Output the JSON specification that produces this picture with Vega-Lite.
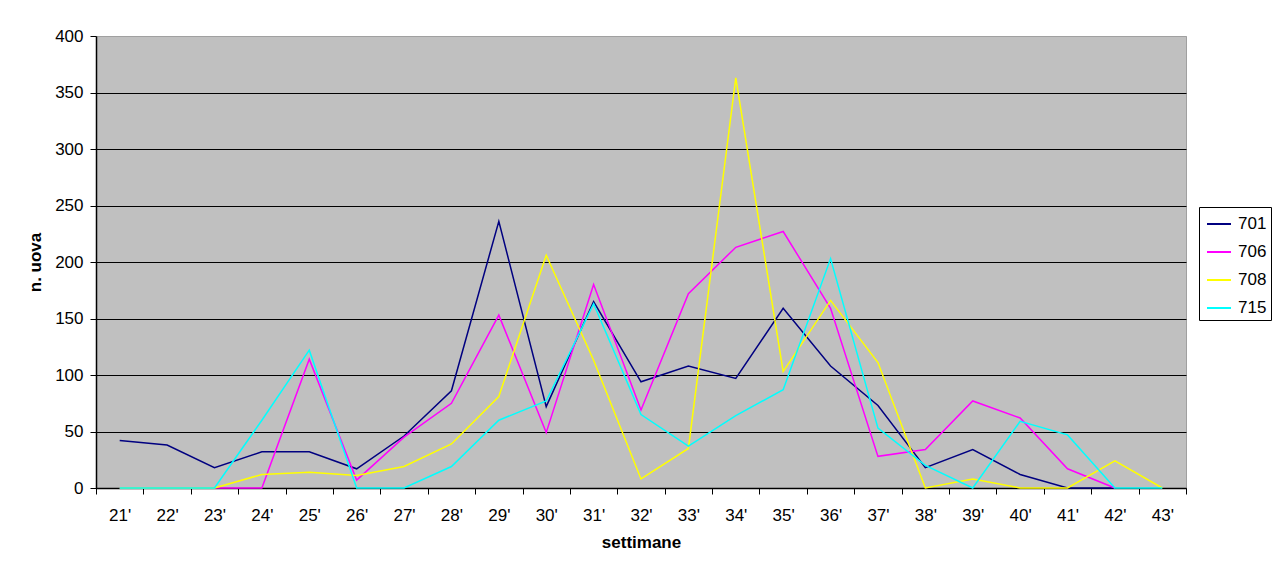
{
  "$schema": "https://vega.github.io/schema/vega-lite/v6.json",
  "width": 1090,
  "height": 452,
  "autosize": {"type": "none"},
  "padding": {"left": 96, "top": 36, "right": 88, "bottom": 83},
  "background": "#ffffff",
  "data": {
    "values": [
      {"sett": "21'", "serie": "701", "n": 42}, {"sett": "22'", "serie": "701", "n": 38}, {"sett": "23'", "serie": "701", "n": 18},
      {"sett": "24'", "serie": "701", "n": 32}, {"sett": "25'", "serie": "701", "n": 32}, {"sett": "26'", "serie": "701", "n": 17},
      {"sett": "27'", "serie": "701", "n": 46}, {"sett": "28'", "serie": "701", "n": 86}, {"sett": "29'", "serie": "701", "n": 236},
      {"sett": "30'", "serie": "701", "n": 72}, {"sett": "31'", "serie": "701", "n": 165}, {"sett": "32'", "serie": "701", "n": 94},
      {"sett": "33'", "serie": "701", "n": 108}, {"sett": "34'", "serie": "701", "n": 97}, {"sett": "35'", "serie": "701", "n": 159},
      {"sett": "36'", "serie": "701", "n": 108}, {"sett": "37'", "serie": "701", "n": 73}, {"sett": "38'", "serie": "701", "n": 18},
      {"sett": "39'", "serie": "701", "n": 34}, {"sett": "40'", "serie": "701", "n": 12}, {"sett": "41'", "serie": "701", "n": 0},
      {"sett": "42'", "serie": "701", "n": 0},

      {"sett": "21'", "serie": "706", "n": 0}, {"sett": "22'", "serie": "706", "n": 0}, {"sett": "23'", "serie": "706", "n": 0},
      {"sett": "24'", "serie": "706", "n": 0}, {"sett": "25'", "serie": "706", "n": 114}, {"sett": "26'", "serie": "706", "n": 7},
      {"sett": "27'", "serie": "706", "n": 45}, {"sett": "28'", "serie": "706", "n": 75}, {"sett": "29'", "serie": "706", "n": 153},
      {"sett": "30'", "serie": "706", "n": 49}, {"sett": "31'", "serie": "706", "n": 180}, {"sett": "32'", "serie": "706", "n": 69},
      {"sett": "33'", "serie": "706", "n": 172}, {"sett": "34'", "serie": "706", "n": 213}, {"sett": "35'", "serie": "706", "n": 227},
      {"sett": "36'", "serie": "706", "n": 159}, {"sett": "37'", "serie": "706", "n": 28}, {"sett": "38'", "serie": "706", "n": 34},
      {"sett": "39'", "serie": "706", "n": 77}, {"sett": "40'", "serie": "706", "n": 62}, {"sett": "41'", "serie": "706", "n": 17},
      {"sett": "42'", "serie": "706", "n": 0},

      {"sett": "21'", "serie": "708", "n": 0}, {"sett": "22'", "serie": "708", "n": 0}, {"sett": "23'", "serie": "708", "n": 0},
      {"sett": "24'", "serie": "708", "n": 12}, {"sett": "25'", "serie": "708", "n": 14}, {"sett": "26'", "serie": "708", "n": 11},
      {"sett": "27'", "serie": "708", "n": 19}, {"sett": "28'", "serie": "708", "n": 39}, {"sett": "29'", "serie": "708", "n": 81},
      {"sett": "30'", "serie": "708", "n": 206}, {"sett": "31'", "serie": "708", "n": 113}, {"sett": "32'", "serie": "708", "n": 8},
      {"sett": "33'", "serie": "708", "n": 35}, {"sett": "34'", "serie": "708", "n": 363}, {"sett": "35'", "serie": "708", "n": 103},
      {"sett": "36'", "serie": "708", "n": 166}, {"sett": "37'", "serie": "708", "n": 111}, {"sett": "38'", "serie": "708", "n": 0},
      {"sett": "39'", "serie": "708", "n": 8}, {"sett": "40'", "serie": "708", "n": 0}, {"sett": "41'", "serie": "708", "n": 0},
      {"sett": "42'", "serie": "708", "n": 24}, {"sett": "43'", "serie": "708", "n": 0},

      {"sett": "21'", "serie": "715", "n": 0}, {"sett": "22'", "serie": "715", "n": 0}, {"sett": "23'", "serie": "715", "n": 0},
      {"sett": "24'", "serie": "715", "n": 60}, {"sett": "25'", "serie": "715", "n": 122}, {"sett": "26'", "serie": "715", "n": 0},
      {"sett": "27'", "serie": "715", "n": 0}, {"sett": "28'", "serie": "715", "n": 19}, {"sett": "29'", "serie": "715", "n": 60},
      {"sett": "30'", "serie": "715", "n": 77}, {"sett": "31'", "serie": "715", "n": 163}, {"sett": "32'", "serie": "715", "n": 65},
      {"sett": "33'", "serie": "715", "n": 37}, {"sett": "34'", "serie": "715", "n": 64}, {"sett": "35'", "serie": "715", "n": 87},
      {"sett": "36'", "serie": "715", "n": 203}, {"sett": "37'", "serie": "715", "n": 53}, {"sett": "38'", "serie": "715", "n": 20},
      {"sett": "39'", "serie": "715", "n": 0}, {"sett": "40'", "serie": "715", "n": 59}, {"sett": "41'", "serie": "715", "n": 47},
      {"sett": "42'", "serie": "715", "n": 0}, {"sett": "43'", "serie": "715", "n": 0}
    ]
  },
  "mark": {"type": "line", "strokeWidth": 1.5, "interpolate": "linear"},
  "encoding": {
    "x": {
      "field": "sett",
      "type": "ordinal",
      "title": "settimane",
      "bandPosition": 0.5,
      "scale": {"type": "band", "paddingInner": 0, "paddingOuter": 0},
      "sort": null,
      "axis": {
        "labelAngle": 0,
        "tickBand": "extent",
        "grid": false,
        "tickSize": 6,
        "labelPadding": 13,
        "titlePadding": 11
      }
    },
    "y": {
      "field": "n",
      "type": "quantitative",
      "title": "n. uova",
      "scale": {"domain": [0, 400], "nice": false},
      "axis": {
        "values": [0, 50, 100, 150, 200, 250, 300, 350, 400],
        "tickSize": 6,
        "labelPadding": 7,
        "titlePadding": 10,
        "gridColor": {"condition": {"test": "datum.value == 400", "value": "#a0a0a0"}, "value": "#000000"}
      }
    },
    "color": {
      "field": "serie",
      "type": "nominal",
      "scale": {"domain": ["701", "706", "708", "715"], "range": ["#000080", "#ff00ff", "#ffff00", "#00ffff"]},
      "legend": {
        "title": null,
        "orient": "none",
        "legendX": 1103,
        "legendY": 171,
        "symbolType": "stroke",
        "symbolSize": 576,
        "symbolStrokeWidth": 2,
        "symbolOffset": 3,
        "labelOffset": 6,
        "rowPadding": 7,
        "padding": 4,
        "strokeColor": "#000000",
        "fillColor": "#ffffff",
        "labelFontSize": 17,
        "labelColor": "#000000"
      }
    }
  },
  "config": {
    "font": "Liberation Sans",
    "view": {"stroke": "#a0a0a0", "fill": "#c0c0c0"},
    "axis": {
      "labelFont": "Liberation Sans",
      "titleFont": "Liberation Sans",
      "labelFontSize": 17,
      "titleFontSize": 17,
      "titleFontWeight": "bold",
      "labelColor": "#000000",
      "titleColor": "#000000",
      "domainColor": "#000000",
      "tickColor": "#000000",
      "gridWidth": 1,
      "domainWidth": 1.5
    },
    "legend": {"labelFont": "Liberation Sans"}
  }
}
